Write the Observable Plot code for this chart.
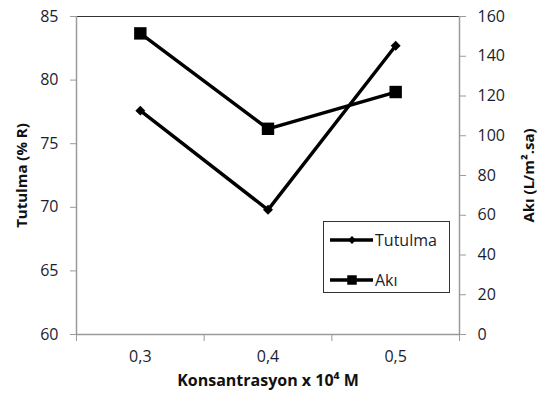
<!DOCTYPE html>
<html>
<head>
<meta charset="utf-8">
<script src="https://cdn.jsdelivr.net/npm/d3@7"></script>
<script src="https://cdn.jsdelivr.net/npm/@observablehq/plot@0.6"></script>
<style>
  body { margin: 0; background: #fff; }
  #wrap { position: relative; width: 538px; height: 403px; }
  #legend { position: absolute; left: 323px; top: 221px; width: 127px; height: 72px;
    border: 1px solid #333; box-sizing: border-box; background: #fff; font-family: "Open Sans", sans-serif; }
</style>
</head>
<body>
<div id="wrap"></div>
<script>
// Data
const concentrations = [0.3, 0.4, 0.5];
const concLabels = ["0,3", "0,4", "0,5"];
const tutulma = [77.6, 69.8, 82.7];   // % R (left axis)
const aki = [151.5, 103.5, 122];      // L/m².sa (right axis)
const leftTicks = [60, 65, 70, 75, 80, 85];
const rightTicks = [0, 20, 40, 60, 80, 100, 120, 140, 160];
const xBoundaryTicks = [0.25, 0.35, 0.45, 0.55];

const leftDomain = [60, 85];
const rightDomain = [0, 160];
const toLeft = d3.scaleLinear(rightDomain, leftDomain);

const rowsT = concentrations.map((c, i) => ({x: c, y: tutulma[i]}));
const rowsA = concentrations.map((c, i) => ({x: c, y: toLeft(aki[i])}));

const txt = "#1a1d2e";
const axisGray = "#9a9a9a";

const chart = Plot.plot({
  width: 538,
  height: 403,
  marginLeft: 76,
  marginRight: 79,
  marginTop: 16,
  marginBottom: 69,
  style: {fontFamily: "'Open Sans', sans-serif", fontSize: "16px", color: txt, background: "#fff"},
  x: {domain: [0.25, 0.55], axis: null},
  y: {domain: leftDomain, axis: null},
  marks: [
    Plot.frame({stroke: "#333", strokeWidth: 1}),
    Plot.ruleY([leftDomain[0]], {stroke: axisGray, strokeWidth: 1.5}),
    Plot.ruleX([0.25, 0.55], {stroke: axisGray, strokeWidth: 1.5}),
    Plot.axisY(leftTicks, {anchor: "left", tickSize: 6, tickPadding: 12, stroke: axisGray, fill: txt, label: null, fontSize: 16}),
    Plot.axisY(rightTicks.map(toLeft), {anchor: "right", tickSize: 6, tickPadding: 12, stroke: axisGray, fill: txt, label: null,
      tickFormat: v => String(Math.round(toLeft.invert(v))), fontSize: 16}),
    Plot.axisX(xBoundaryTicks, {anchor: "bottom", tickSize: 7, stroke: axisGray, tickFormat: () => "", label: null}),
    Plot.text(concentrations, {x: d => d, frameAnchor: "bottom", dy: 27, text: (d, i) => concLabels[i], fill: txt, fontSize: 16}),
    Plot.line(rowsT, {x: "x", y: "y", stroke: "#000", strokeWidth: 3.4}),
    Plot.dot(rowsT, {x: "x", y: "y", symbol: "diamond2", r: 4.5, fill: "#000", stroke: "none"}),
    Plot.line(rowsA, {x: "x", y: "y", stroke: "#000", strokeWidth: 3.4}),
    Plot.dot(rowsA, {x: "x", y: "y", symbol: "square", r: 7, fill: "#000", stroke: "none"}),
    Plot.text(["Tutulma (% R)"], {frameAnchor: "left", textAnchor: "middle", dx: -54, rotate: -90, fontWeight: "bold", fontSize: 15, fill: "#111"}),
    Plot.text(["Akı (L/m².sa)"], {frameAnchor: "right", textAnchor: "middle", dx: 70, rotate: -90, fontWeight: "bold", fontSize: 15, fill: "#111"}),
    Plot.text(["Konsantrasyon x 10⁴ M"], {frameAnchor: "bottom", dy: 51, fontWeight: "bold", fontSize: 16, fill: "#111"})
  ]
});
const wrap = document.getElementById("wrap");
wrap.appendChild(chart);

// Legend
const series = [{name: "Tutulma", symbol: d3.symbolDiamond2, size: 40}, {name: "Akı", symbol: d3.symbolSquare, size: 90}];
const legend = document.createElement("div");
legend.id = "legend";
const ns = "http://www.w3.org/2000/svg";
const lsvg = document.createElementNS(ns, "svg");
lsvg.setAttribute("width", 125);
lsvg.setAttribute("height", 70);
series.forEach((s, i) => {
  const cy = 18 + i * 40;
  const line = document.createElementNS(ns, "line");
  line.setAttribute("x1", 6); line.setAttribute("x2", 49);
  line.setAttribute("y1", cy); line.setAttribute("y2", cy);
  line.setAttribute("stroke", "#000"); line.setAttribute("stroke-width", 3.4);
  lsvg.appendChild(line);
  const p = document.createElementNS(ns, "path");
  p.setAttribute("d", d3.symbol(s.symbol, s.size)());
  p.setAttribute("transform", `translate(28,${cy})`);
  p.setAttribute("fill", "#000");
  lsvg.appendChild(p);
  const t = document.createElementNS(ns, "text");
  t.setAttribute("x", 51); t.setAttribute("y", cy);
  t.setAttribute("dy", "0.35em");
  t.setAttribute("font-size", 16);
  t.setAttribute("fill", txt);
  t.textContent = s.name;
  lsvg.appendChild(t);
});
legend.appendChild(lsvg);
wrap.appendChild(legend);
</script>
</body>
</html>
